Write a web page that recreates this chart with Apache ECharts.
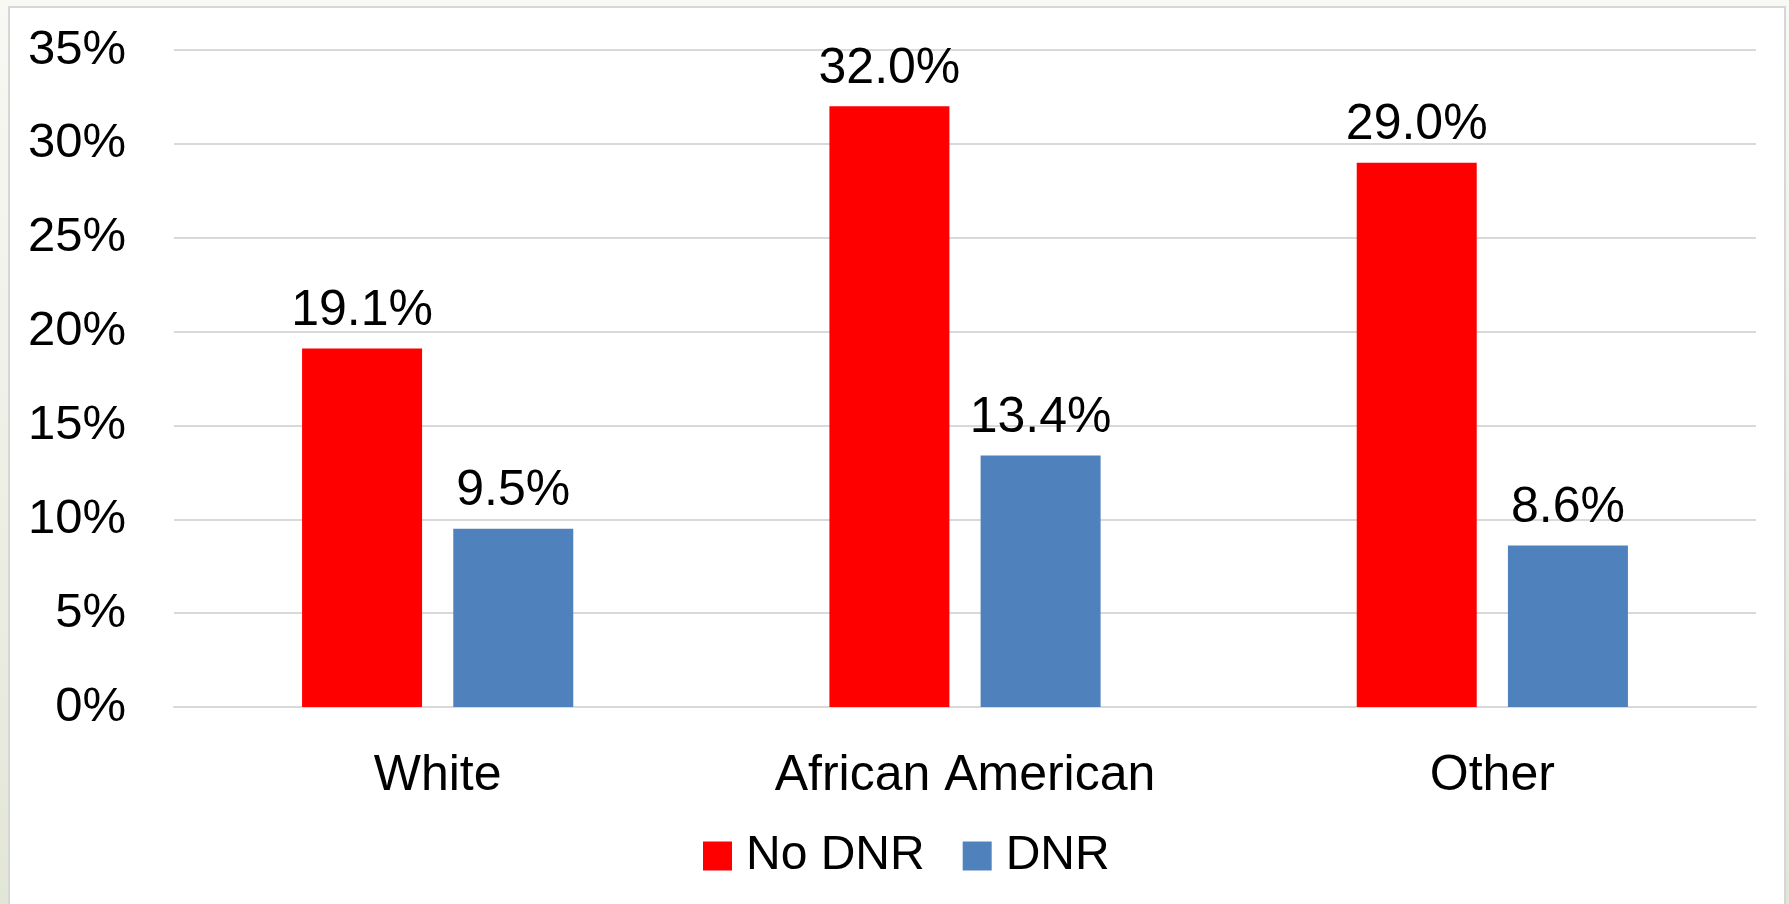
<!DOCTYPE html>
<html>
<head>
<meta charset="utf-8">
<script src="https://cdn.jsdelivr.net/npm/echarts@6/dist/echarts.min.js"></script>
<style>
  html, body { margin: 0; padding: 0; width: 1789px; height: 904px; overflow: hidden;
    background: linear-gradient(to bottom, #f8f8f4 0%, #eceee3 60%, #e2e6d6 100%); }
  #frame { position: absolute; left: 8px; top: 6px; width: 1774px; height: 910px;
    background: #ffffff; border: 2px solid #d6d6d6; }
  #chart { position: absolute; left: 0; top: 0; width: 1789px; height: 904px; }
</style>
</head>
<body>
<div id="frame"></div>
<div id="chart"></div>
<script>
// Categories, series and axis ticks
const categories = ['White', 'African American', 'Other'];
const noDnr = [19.1, 32.0, 29.0];
const dnr = [9.5, 13.4, 8.6];
const seriesNames = ['No DNR', 'DNR'];
const yTicks = { min: 0, max: 35, interval: 5 };

const FONT = '"Liberation Sans", Arial, sans-serif';

const chart = echarts.init(document.getElementById('chart'), null, { renderer: 'canvas' });

const labelStyle = {
  show: true,
  position: 'top',
  distance: 12,
  fontFamily: FONT,
  fontSize: 50,
  color: '#000000',
  formatter: p => p.value.toFixed(1) + '%'
};

chart.setOption({
  backgroundColor: 'transparent',
  animation: false,
  grid: { left: 174, right: 33, top: 50, bottom: 197, containLabel: false },
  legend: {
    bottom: 19,
    left: 698,
    itemWidth: 29,
    itemHeight: 29,
    itemGap: 38,
    icon: 'rect',
    textStyle: { fontFamily: FONT, fontSize: 48, color: '#000000', padding: [0, 0, 0, 9] },
    data: seriesNames
  },
  xAxis: {
    type: 'category',
    data: categories,
    axisLine: { show: true, lineStyle: { color: '#d9d9d9', width: 2 } },
    axisTick: { show: false },
    axisLabel: { fontFamily: FONT, fontSize: 50, color: '#000000', margin: 44 }
  },
  yAxis: {
    type: 'value',
    min: yTicks.min,
    max: yTicks.max,
    interval: yTicks.interval,
    axisLine: { show: false },
    axisTick: { show: false },
    axisLabel: { fontFamily: FONT, fontSize: 49, color: '#000000', margin: 48,
      formatter: v => v + '%' },
    splitLine: { lineStyle: { color: '#d9d9d9', width: 2 } }
  },
  series: [
    { name: seriesNames[0], type: 'bar', data: noDnr, barWidth: 120, barGap: '26%',
      itemStyle: { color: '#ff0000' }, label: labelStyle },
    { name: seriesNames[1], type: 'bar', data: dnr, barWidth: 120,
      itemStyle: { color: '#4f81bd' }, label: labelStyle }
  ]
});
</script>
</body>
</html>
